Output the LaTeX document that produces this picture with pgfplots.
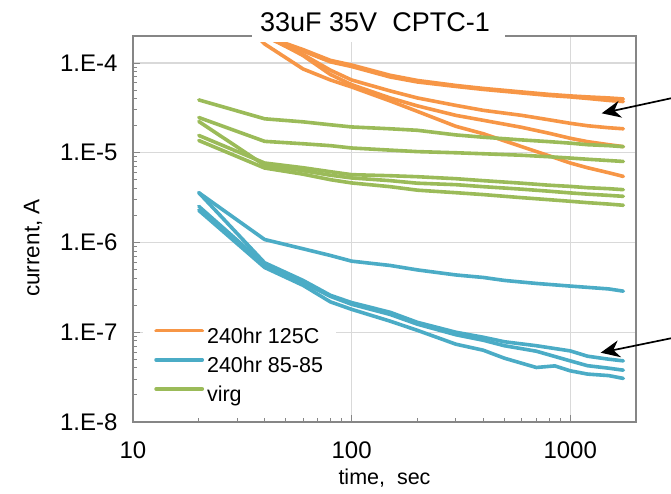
\documentclass[border=0pt]{standalone}
\usepackage{pgfplots}
\pgfplotsset{compat=1.18}
\usepackage{fontspec}
\setmainfont{Liberation Sans}
\usetikzlibrary{arrows.meta}
\definecolor{xlorange}{HTML}{F79646}
\definecolor{xlblue}{HTML}{4BACC6}
\definecolor{xlgreen}{HTML}{9BBB59}
\definecolor{gridgray}{HTML}{D9D9D9}
\definecolor{framegray}{HTML}{868686}
\begin{document}
\begin{tikzpicture}[x=1pt,y=1pt]
\path[use as bounding box, fill=white] (0,0) rectangle (671,494);
\begin{axis}[
  at={(133pt,72pt)}, anchor=south west,
  scale only axis, width=503pt, height=386pt,
  xmode=log, ymode=log,
  xmin=10, xmax=2000, ymin=1e-8, ymax=2e-4,
  xtick={10,100,1000}, xticklabels={10,100,1000},
  ytick={1e-8,1e-7,1e-6,1e-5,1e-4},
  yticklabels={1.E-8,1.E-7,1.E-6,1.E-5,1.E-4},
  tick pos=left, tick align=inside,
  major tick length=7pt, minor tick length=4.5pt,
  every tick/.style={draw=framegray, line width=1pt},
  axis line style={draw=framegray, line width=1.4pt},
  grid=major, major grid style={draw=gridgray, line width=1.3pt},
  ticklabel style={font=\fontsize{24}{28}\selectfont},
  xticklabel style={yshift=-16pt},
  yticklabel style={xshift=-12pt},
  xlabel={time,\ \ sec},
  label style={font=\fontsize{21.5}{25}\selectfont},
  xlabel style={at={(rel axis cs:0.5,0)}, anchor=center, yshift=-56pt},
  legend style={at={(rel axis cs:0.020,0.019)}, anchor=south west, draw=none, fill=white,
    inner xsep=11pt, inner ysep=6pt, row sep=5.2pt, column sep=1pt,
    nodes={inner sep=2pt, text height=15pt, text depth=5pt},
    font=\fontsize{21.5}{25}\selectfont},
  legend cell align=left,
  legend image code/.code={\draw[#1, line width=3.8pt] (0pt,7.5pt) -- (46pt,7.5pt);},
  every axis plot/.append style={line width=3.6pt, line join=round, line cap=round, mark=none},
]
% ---- 240hr 125C (orange)
\addplot[xlorange] coordinates {(20,5.0e-4)(40,2.0e-4)(60,1.41e-4)(80,1.07e-4)(100,9.50e-5)(150,7.30e-5)(200,6.39e-5)(300,5.62e-5)(400,5.21e-5)(600,4.76e-5)(800,4.47e-5)(1000,4.30e-5)(1200,4.19e-5)(1500,4.08e-5)(1750,3.98e-5)};
\addlegendentry{240hr 125C}
\addplot[xlorange, forget plot] coordinates {(20,4.8e-4)(40,1.95e-4)(60,1.36e-4)(80,1.03e-4)(100,9.14e-5)(150,6.99e-5)(200,6.15e-5)(300,5.48e-5)(400,5.08e-5)(600,4.64e-5)(800,4.35e-5)(1000,4.19e-5)(1200,4.03e-5)(1500,3.83e-5)(1750,3.72e-5)};
\addplot[xlorange, forget plot] coordinates {(20,6.0e-4)(40,2.0e-4)(60,1.24e-4)(80,8.32e-5)(100,6.47e-5)(150,4.89e-5)(200,4.08e-5)(300,3.37e-5)(400,2.97e-5)(600,2.61e-5)(800,2.33e-5)(1000,2.13e-5)(1200,2.00e-5)(1500,1.90e-5)(1750,1.85e-5)};
\addplot[xlorange, forget plot] coordinates {(20,7.0e-4)(40,2.05e-4)(60,1.21e-4)(80,7.45e-5)(100,5.74e-5)(150,4.08e-5)(200,3.33e-5)(300,2.61e-5)(400,2.30e-5)(600,1.92e-5)(800,1.65e-5)(1000,1.45e-5)(1200,1.33e-5)(1500,1.23e-5)(1750,1.17e-5)};
\addplot[xlorange, forget plot] coordinates {(20,9.5e-4)(40,1.63e-4)(60,8.58e-5)(80,6.47e-5)(100,5.41e-5)(150,3.78e-5)(200,2.89e-5)(300,1.97e-5)(400,1.63e-5)(600,1.17e-5)(800,9.26e-6)(1000,7.69e-6)(1200,6.81e-6)(1500,5.99e-6)(1750,5.45e-6)};
% ---- 240hr 85-85 (blue)
\addplot[xlblue] coordinates {(20,3.59e-6)(40,1.08e-6)(60,8.51e-7)(80,7.17e-7)(100,6.20e-7)(150,5.55e-7)(200,4.95e-7)(300,4.35e-7)(400,4.08e-7)(500,3.78e-7)(700,3.50e-7)(1000,3.27e-7)(1500,3.04e-7)(1750,2.87e-7)};
\addlegendentry{240hr 85-85}
\addplot[xlblue, forget plot] coordinates {(20,3.59e-6)(40,5.95e-7)(60,3.78e-7)(80,2.58e-7)(100,2.14e-7)(150,1.67e-7)(200,1.29e-7)(300,1.00e-7)(400,8.80e-8)(500,7.84e-8)(700,7.08e-8)(1000,6.20e-8)(1200,5.41e-8)(1500,5.01e-8)(1750,4.80e-8)};
\addplot[xlblue, forget plot] coordinates {(20,2.53e-6)(40,5.70e-7)(60,3.59e-7)(80,2.51e-7)(100,2.05e-7)(150,1.58e-7)(200,1.23e-7)(300,9.38e-8)(400,8.15e-8)(500,7.08e-8)(700,6.15e-8)(1000,4.80e-8)(1200,4.24e-8)(1500,3.98e-8)(1750,3.78e-8)};
\addplot[xlblue, forget plot] coordinates {(20,2.28e-6)(40,5.27e-7)(60,3.33e-7)(80,2.18e-7)(100,1.80e-7)(150,1.33e-7)(200,1.05e-7)(300,7.36e-8)(400,6.31e-8)(500,5.14e-8)(700,4.05e-8)(850,4.22e-8)(1000,3.72e-8)(1200,3.42e-8)(1500,3.29e-8)(1750,3.06e-8)};
% ---- virg (green)
\addplot[xlgreen] coordinates {(20,3.88e-5)(40,2.39e-5)(60,2.21e-5)(80,2.05e-5)(100,1.94e-5)(150,1.85e-5)(200,1.78e-5)(300,1.58e-5)(400,1.49e-5)(600,1.39e-5)(800,1.33e-5)(1000,1.28e-5)(1200,1.23e-5)(1500,1.20e-5)(1750,1.17e-5)};
\addlegendentry{virg}
\addplot[xlgreen, forget plot] coordinates {(20,2.47e-5)(40,1.34e-5)(60,1.26e-5)(80,1.20e-5)(100,1.13e-5)(150,1.07e-5)(200,1.03e-5)(300,1.00e-5)(400,9.75e-6)(600,9.38e-6)(800,9.03e-6)(1000,8.73e-6)(1200,8.47e-6)(1500,8.19e-6)(1750,8.00e-6)};
\addplot[xlgreen, forget plot] coordinates {(20,2.23e-5)(40,7.26e-6)(60,6.31e-6)(80,5.62e-6)(100,5.24e-6)(150,4.89e-6)(200,4.58e-6)(300,4.41e-6)(400,4.19e-6)(600,3.93e-6)(800,3.73e-6)(1000,3.57e-6)(1200,3.46e-6)(1500,3.35e-6)(1750,3.27e-6)};
\addplot[xlgreen, forget plot] coordinates {(20,1.56e-5)(40,7.69e-6)(60,6.81e-6)(80,6.15e-6)(100,5.70e-6)(150,5.55e-6)(200,5.41e-6)(300,5.14e-6)(400,4.89e-6)(600,4.58e-6)(800,4.35e-6)(1000,4.22e-6)(1200,4.08e-6)(1500,3.98e-6)(1750,3.88e-6)};
\addplot[xlgreen, forget plot] coordinates {(20,1.37e-5)(40,6.76e-6)(60,5.77e-6)(80,5.01e-6)(100,4.61e-6)(150,4.19e-6)(200,3.83e-6)(300,3.59e-6)(400,3.42e-6)(600,3.16e-6)(800,3.00e-6)(1000,2.88e-6)(1200,2.78e-6)(1500,2.68e-6)(1750,2.60e-6)};
\end{axis}
% y axis title
\node[rotate=90, font=\fontsize{22.5}{26}\selectfont] at (33,246) {current, A};
% title box
\fill[white] (252,452) rectangle (505,494);
\node at (375,471.5) {\fontsize{27}{32}\selectfont 33uF 35V\ \ CPTC-1};
% arrows
\draw[-{Stealth[length=19pt,width=17pt]}, line width=1.7pt] (671,395.7) -- (601.7,380.7);
\draw[-{Stealth[length=19pt,width=17pt]}, line width=1.7pt] (671,155.7) -- (600.7,141.3);
\end{tikzpicture}
\end{document}
